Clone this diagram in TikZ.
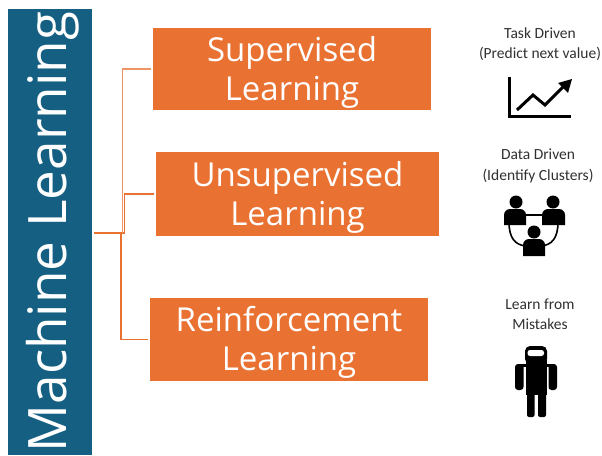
\documentclass[tikz,border=0pt]{standalone}
\usepackage{fontspec}
\setmainfont{Open Sans}
\newfontfamily\carlito{Carlito}
\definecolor{mlblue}{HTML}{156082}
\definecolor{mlorange}{HTML}{E97132}
\definecolor{mlgrey}{HTML}{303030}
\newcommand{\boxlift}{\rule{0pt}{31pt}}
\begin{document}
\begin{tikzpicture}[x=1pt,y=-1pt,
    box/.style={fill=mlorange,text=white,inner sep=0pt,align=center,font=\fontsize{33}{39}\selectfont},
    caption/.style={text=mlgrey,inner sep=0pt,align=center,font=\carlito\fontsize{15.5}{20.5}\selectfont},
    link/.style={draw=mlorange,line width=1.6pt,shorten >=2pt}]
                \useasboundingbox (0,0) rectangle (602,455);

                \node[fill=mlblue,text=white,inner sep=0pt,rotate=90,minimum width=446pt,minimum height=84pt,text height=45pt,text depth=13pt,font=\fontsize{53}{53}\selectfont] (ml) at (50,232) {Machine Learning};

                \node[box,minimum width=278pt,minimum height=82pt] (sup) at (292,69) {\boxlift Supervised\\Learning};
                \node[box,minimum width=283pt,minimum height=84pt] (uns) at (297.5,194) {\boxlift Unsupervised\\Learning};
                \node[box,minimum width=278pt,minimum height=83pt] (rei) at (289,339.5) {\boxlift Reinforcement\\Learning};

                \coordinate (j1) at (122.5,233);
                \coordinate (j2) at (124.5,233);
                \coordinate (j3) at (121,233);
                \draw [link,shorten <=2pt] (ml.south |- j2) -- (j2) |- (uns.west);
                \draw [link,draw=mlorange!75] (j1) |- (sup.west);
                \draw [link] (j3) |- (rei.west);

                \node[caption] (task) at (540,44) {Task Driven\\(Predict next value)};
                \node[caption] (data) at (538,166) {Data Driven\\(Identify Clusters)};
                \node[caption] (mist) at (540,314) {Learn from\\Mistakes};

                % chart
                \draw [line width=3pt,black] (509.5,77) -- (509.5,116.5) -- (571,116.5);
                \draw [line width=3pt,black] (517,110) -- (533,95) -- (545,105) -- (563,87);
                \fill [black] (572,79) -- (568,93) -- (558,83) -- cycle;

                % people
                \draw [line width=1.6pt,black] (522,215) -- (545,215);
                \draw [line width=1.6pt,black] (509,222) .. controls (509,238) and (515,245) .. (526,246);
                \draw [line width=1.6pt,black] (558,222) .. controls (558,238) and (552,245) .. (541,246);
                \fill [black] (516,202) circle (6.5);
                \fill [black] (553,202) circle (6.5);
                \fill [black] (534,232) circle (6.5);
                \fill [black] (504,225) [rounded corners=6pt] -- (504,209) -- (526,209) [sharp corners] -- (526,225) -- cycle;
                \fill [black] (542,225) [rounded corners=6pt] -- (542,209) -- (565,209) [sharp corners] -- (565,225) -- cycle;
                \fill [black] (523,256) [rounded corners=6pt] -- (523,239) -- (545,239) [sharp corners] -- (545,256) -- cycle;

                % robot
                \fill [black,rounded corners=5pt] (525,346) rectangle (547,364);
                \fill [white,rounded corners=2.5pt] (527.5,350) rectangle (544,356);
                \fill [black] (526,360) rectangle (547,395);
                \fill [black,rounded corners=3pt] (515,364) rectangle (523.5,390);
                \fill [black,rounded corners=3pt] (548.5,364) rectangle (557,390);
                \fill [black] (519,364) rectangle (553,367);
                \fill [black,rounded corners=2pt] (527,390) rectangle (534.5,417);
                \fill [black,rounded corners=2pt] (538,390) rectangle (546,417);
\end{tikzpicture}
\end{document}
